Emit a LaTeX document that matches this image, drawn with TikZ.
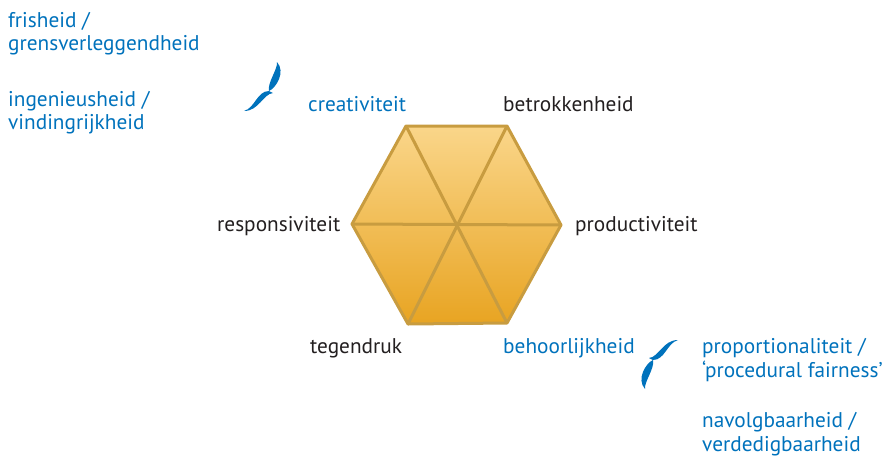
\documentclass[tikz,border=0pt]{standalone}
\usepackage{fontspec}
\setmainfont{PT Sans}
\definecolor{bluetxt}{RGB}{0,114,188}
\definecolor{blacktxt}{RGB}{35,31,32}
\definecolor{hexline}{RGB}{200,156,64}
\definecolor{hextop}{RGB}{250,214,138}
\definecolor{hexbot}{RGB}{232,164,34}
\tikzset{
  lbl/.style={anchor=base west, inner sep=0pt, font=\fontsize{21.3}{26}\selectfont},
  bluelbl/.style={lbl, text=bluetxt},
  blacklbl/.style={lbl, text=blacktxt},
  hexedge/.style={draw=hexline, line width=3pt, line join=round},
  brace/.pic={
    \fill[bluetxt] (7,-31) .. controls (16,-21) and (6,-5) .. (-1,-2)
        .. controls (-3,-10) and (8,-24) .. (7,-31) -- cycle;
    \fill[bluetxt] (3,0) .. controls (-7,1) and (-11,18) .. (-26,18)
        .. controls (-15,15) and (-13,-2) .. (-1,-2) -- cycle;
  }
}
\begin{document}
\begin{tikzpicture}[x=1pt,y=-1pt]
\useasboundingbox (0,0) rectangle (883,456);
% hexagon vertices
\coordinate (h1) at (406,126);
\coordinate (h2) at (507,126);
\coordinate (h3) at (561,225);
\coordinate (h4) at (507,323);
\coordinate (h5) at (408,324);
\coordinate (h6) at (352,224);
\shade[top color=hextop, bottom color=hexbot] (h1) -- (h2) -- (h3) -- (h4) -- (h5) -- (h6) -- cycle;
\draw[hexedge] (h1) -- (h4);
\draw[hexedge] (h2) -- (h5);
\draw[hexedge] (h3) -- (h6);
\draw[hexedge] (h1) -- (h2) -- (h3) -- (h4) -- (h5) -- (h6) -- cycle;
% labels
\node[bluelbl] (cre) at (308,111) {creativiteit};
\node[blacklbl] (bet) at (503,111) {betrokkenheid};
\node[blacklbl] (res) at (217,231) {responsiviteit};
\node[blacklbl] (pro) at (575,231) {productiviteit};
\node[blacklbl] (teg) at (310,353) {tegendruk};
\node[bluelbl] (beh) at (503,353) {behoorlijkheid};
\node[bluelbl] (fr1) at (8,27) {frisheid /};
\node[bluelbl] (fr2) at (8,50) {grensverleggendheid};
\node[bluelbl] (in1) at (8,106) {ingenieusheid /};
\node[bluelbl] (in2) at (8,129) {vindingrijkheid};
\node[bluelbl] (pp1) at (702,353) {proportionaliteit /};
\node[bluelbl] (pp2) at (702,377) {‘procedural fairness’};
\node[bluelbl] (nv1) at (702,427) {navolgbaarheid /};
\node[bluelbl] (nv2) at (702,451) {verdedigbaarheid};
% braces
\pic at (270,93) {brace};
\pic[rotate=180] at (652,358) {brace};
\end{tikzpicture}
\end{document}
